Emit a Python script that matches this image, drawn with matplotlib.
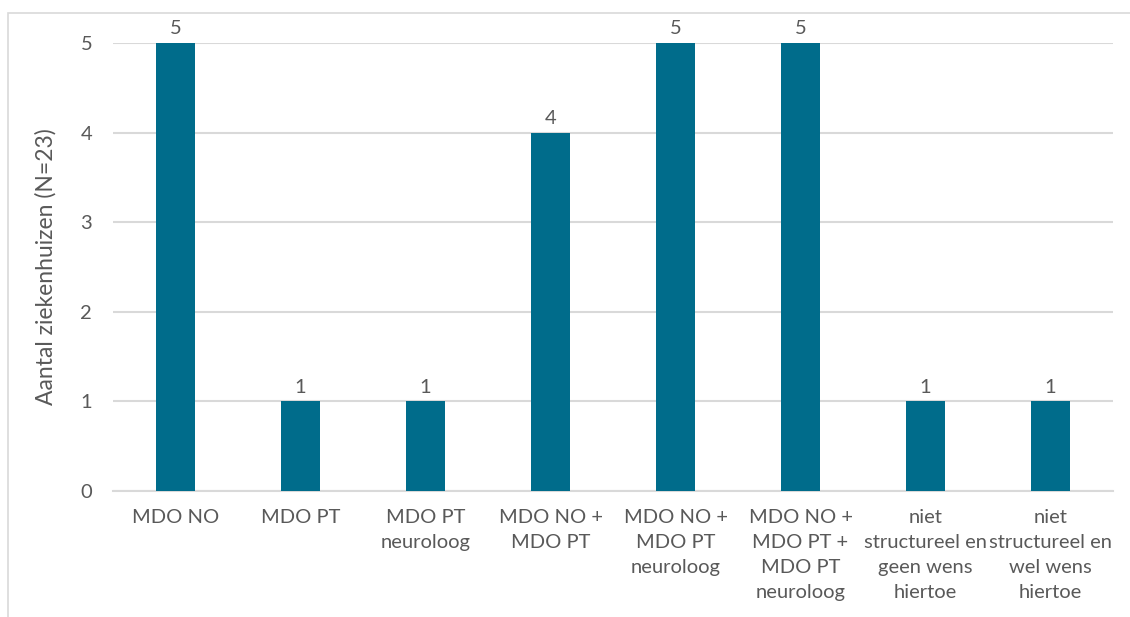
import matplotlib.pyplot as plt
from matplotlib.patches import Rectangle

categories = ['MDO NO', 'MDO PT', 'MDO PT\nneuroloog', 'MDO NO +\nMDO PT',
              'MDO NO +\nMDO PT\nneuroloog', 'MDO NO +\nMDO PT +\nMDO PT\nneuroloog',
              'niet\nstructureel en\ngeen wens\nhiertoe',
              'niet\nstructureel en\nwel wens\nhiertoe']
counts = [5, 1, 1, 4, 5, 5, 1, 1]
yticks = [0, 1, 2, 3, 4, 5]

bar_color = '#006C8B'
text_color = '#595959'
grid_color = '#D9D9D9'

plt.rcParams['font.family'] = ['Lato', 'DejaVu Sans']

fig = plt.figure(figsize=(11.3, 6.17), dpi=100)
ax = fig.add_axes([0.1, 0.2042, 0.885, 0.7261])

x = list(range(len(categories)))
bars = ax.bar(x, counts, width=0.31, color=bar_color, zorder=3)
for b, v in zip(bars, counts):
    ax.annotate(str(v), (b.get_x() + b.get_width() / 2, v), xytext=(0, 4),
                textcoords='offset points', ha='center', va='bottom',
                fontsize=14.5, color=text_color)

ax.set_xlim(-0.5, len(categories) - 0.5)
ax.set_ylim(0, 5)
ax.set_yticks(yticks)
ax.set_xticks(x)
ax.set_xticklabels(categories, linespacing=1.58)
ax.yaxis.grid(True, color=grid_color, linewidth=1.5, zorder=0)
ax.tick_params(axis='both', length=0, labelsize=14.5, colors=text_color)
ax.tick_params(axis='x', pad=13)
ax.tick_params(axis='y', pad=15)
for s in ['top', 'right', 'left']:
    ax.spines[s].set_visible(False)
ax.spines['bottom'].set_color(grid_color)
ax.spines['bottom'].set_linewidth(1.5)
ax.set_ylabel('Aantal ziekenhuizen (N=23)', fontsize=16.5, color=text_color)
ax.yaxis.set_label_coords(-0.056, 0.5)

# light frame around the chart area
fig.patches.append(Rectangle((8 / 1130, -0.1), 1.2, (617 - 13) / 617 + 0.1,
                             transform=fig.transFigure, fill=False,
                             edgecolor='#D9D9D9', linewidth=1.2))

fig.savefig('out.png', dpi=100)
